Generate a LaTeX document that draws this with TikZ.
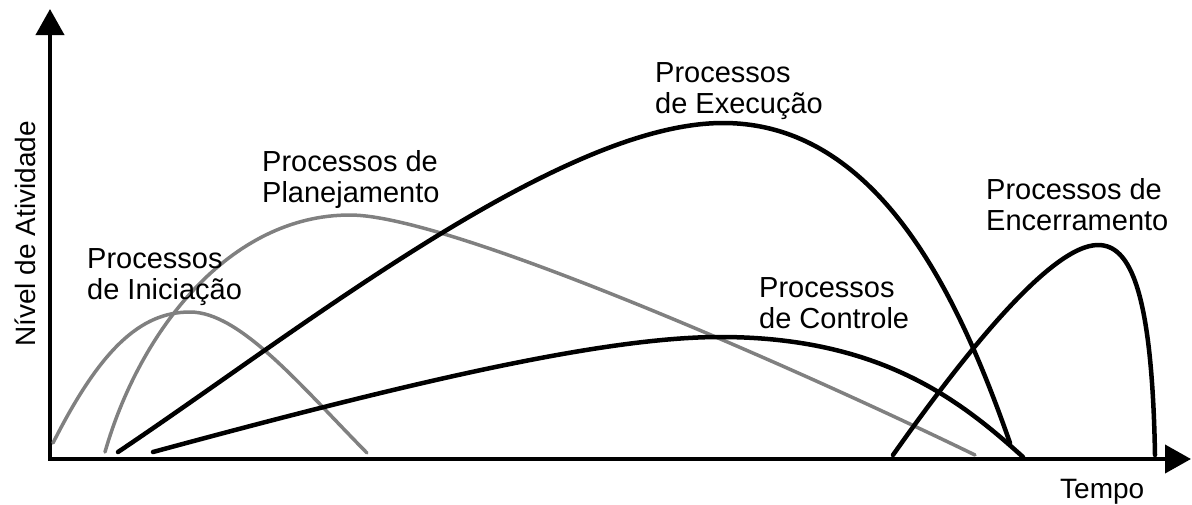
\documentclass[tikz,border=0pt]{standalone}
\usepackage{fontspec}
\setmainfont{Liberation Sans}
\usetikzlibrary{arrows.meta}

\tikzset{
  eixo/.style={line width=4pt, -{Triangle[length=26pt,width=28pt]}},
  fase/.style={line width=4.5pt, line cap=round, line join=round},
  fasecinza/.style={line width=3.5pt, black!50, line cap=round, line join=round},
  rotulo/.style={anchor=north west, align=left, inner sep=0pt,
    font=\fontsize{29}{31}\selectfont},
}

\begin{document}
\begin{tikzpicture}[x=1pt, y=-1pt]

      \useasboundingbox (0,0) rectangle (1192,504);

      % eixos
      \coordinate (origem) at (50,459);
      \coordinate (topo) at (50,9);
      \coordinate (fim) at (1191,459);
      \draw[eixo] (origem) -- (topo);
      \draw[eixo] (48,459) -- (fim);

      \node[rotate=90, anchor=base west, inner sep=0pt,
        font=\fontsize{28}{30}\selectfont] (nivel) at (35,347) {Nível de Atividade};
      \node[anchor=base west, inner sep=0pt,
        font=\fontsize{28}{30}\selectfont] (tempo) at (1060,498) {Tempo};

      % curvas cinzentas
      \draw[fasecinza] (53,443) .. controls (100,350) and (140,312) .. (190,312)
        .. controls (240,312) and (300,385) .. (367,453);
      \draw[fasecinza] (105,452) .. controls (140,330) and (230,215) .. (350,215)
        .. controls (450,215) and (800,370) .. (975,455);

      % curvas pretas
      \draw[fase] (118,452) .. controls (300,330) and (560,123) .. (723,123)
        .. controls (880,123) and (960,300) .. (1010,443);
      \draw[fase] (153,452) .. controls (400,385) and (600,337) .. (720,337)
        .. controls (880,337) and (960,400) .. (1023,457);
      \draw[fase] (893,455) .. controls (960,360) and (1050,245) .. (1098,245)
        .. controls (1130,245) and (1152,290) .. (1155,455);

      % rotulos
      \node[rotulo] (iniciacao) at (87,248) {Processos\\de Iniciação};
      \node[rotulo] (planejamento) at (262,150) {Processos de\\Planejamento};
      \node[rotulo] (execucao) at (655,62) {Processos\\de Execução};
      \node[rotulo] (controle) at (759,277) {Processos\\de Controle};
      \node[rotulo] (encerramento) at (986,178) {Processos de\\Encerramento};

    \end{tikzpicture}
\end{document}
